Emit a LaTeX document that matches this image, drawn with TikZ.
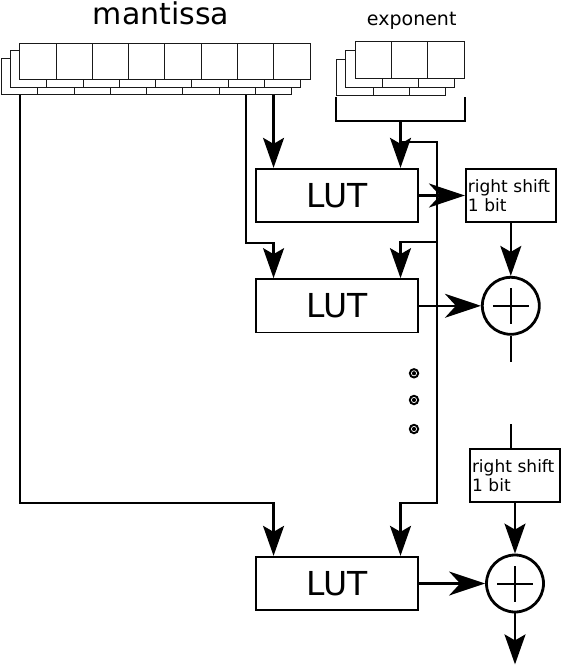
\documentclass[tikz,border=0pt]{standalone}
\usepackage{fontspec}
\setmainfont{DejaVu Sans}
\usetikzlibrary{arrows.meta,positioning}

\tikzset{
  cell/.style={draw=black!90, fill=white, line width=1pt, minimum width=36.3pt,
    minimum height=36.6pt, inner sep=0pt},
  lutbox/.style={draw, line width=1.8pt, minimum width=162pt, minimum height=53.5pt,
    inner sep=0pt, font=\fontsize{33}{33}\selectfont},
  shiftbox/.style={draw, line width=1.8pt, minimum width=90pt, minimum height=53.5pt,
    text width=86pt, inner xsep=2pt, align=left, font=\fontsize{17}{19.5}\selectfont},
  adder/.style={circle, draw, line width=2.8pt, minimum size=57pt,
    path picture={\draw[line width=2pt] (path picture bounding box.center)
      +(-18pt,0pt) -- +(18pt,0pt) +(0pt,-18pt) -- +(0pt,18pt);}},
  wire/.style={line width=2.3pt},
  vin/.style={wire, -{Stealth[length=30pt,width=21pt,inset=6pt]}},
  hin/.style={wire, -{Stealth[length=36pt,width=24pt,inset=11pt]}},
  dot/.style={circle, fill, inner sep=0pt, minimum size=10.5pt,
    path picture={\draw[white, line width=0.7pt] (path picture bounding box.center) circle (2.6pt);}}
}

\begin{document}
\begin{tikzpicture}[x=1pt,y=-1pt]
    \useasboundingbox (0,0) rectangle (562,666);
    % registers, back layer first
    \foreach \l/\dx/\dy in {2/-18.3/15, 1/-9.3/7.5, 0/0/0} {
        \foreach \i in {0,...,7}
            \node[cell] (m\l-\i) at ({38.1+\i*36.25+\dx},{61.5+\dy}) {};
        \foreach \i in {0,1,2}
            \node[cell] (e\l-\i) at ({373.2+\i*36.4+\dx},{60+1.18*\dy}) {};
    }
    \node[anchor=base, font=\fontsize{30}{30}\selectfont] (mlabel) at (161,25) {mantissa};
    \node[anchor=base, font=\fontsize{19}{19}\selectfont] (elabel) at (411.7,26) {exponent};

    \node[lutbox] (lut1) at (337,195.5) {LUT};
    \node[lutbox, below=55pt of lut1] (lut2) {LUT};
    \node[lutbox] (lut3) at (337,583.5) {LUT};
    \node[shiftbox, right=46pt of lut1] (shift1) {right shift\\1 bit};
    \node[adder] (add1) at (shift1 |- lut2) {};
    \node[shiftbox] (shift2) at (515,475.5) {right shift\\1 bit};
    \node[adder] (add2) at (shift2 |- lut3) {};
    \foreach \y [count=\k] in {373.3,400,429}
        \node[dot] (dot\k) at (414,\y) {};

    % mantissa taps
    \coordinate (p2) at (lut2.north -| m2-7.south);
    \coordinate (p3) at (lut3.north -| m2-7.south);
    \coordinate (k2) at ([yshift=35pt]p2);
    \coordinate (k3) at ([yshift=53pt]p3);
    \draw[vin] (m2-7.south) -- (m2-7.south |- lut1.north);
    \draw[vin] (m1-6.south |- m2-0.south) |- (k2) -- (p2);
    \draw[vin] (m2-0.south) |- (k3) -- (p3);

    % exponent bus
    \coordinate (ebr) at (400.5,120.7);
    \coordinate (bus) at (436.7,141.7);
    \coordinate (q2) at (lut2.north -| ebr);
    \coordinate (q3) at (lut3.north -| ebr);
    \coordinate (j2) at ([yshift=36pt]q2);
    \coordinate (j3) at ([yshift=53pt]q3);
    \draw[wire] ([yshift=-1pt]e2-0.south west) |- (ebr) -| ([yshift=-1pt]e0-2.east |- e2-0.south);
    \draw[vin] (ebr) -- (ebr |- lut1.north);
    \draw[vin] (ebr |- bus) -- (bus) |- (j3) -- (q3);
    \draw[vin] (bus |- j2) -- (j2) -- (q2);

    % outputs
    \draw[hin] (lut1.east) -- (shift1.west);
    \draw[vin] (shift1.south) -- (add1.north);
    \draw[hin] (lut2.east) -- (add1.west);
    \draw[wire] (add1.south) -- ++(0,26);
    \draw[wire] (add1.south |- shift2.north) -- ++(0,-24);
    \draw[vin] (shift2.south) -- (add2.north);
    \draw[hin] (lut3.east) -- (add2.west);
    \draw[vin] (add2.south) -- ++(0,51);
\end{tikzpicture}
\end{document}
